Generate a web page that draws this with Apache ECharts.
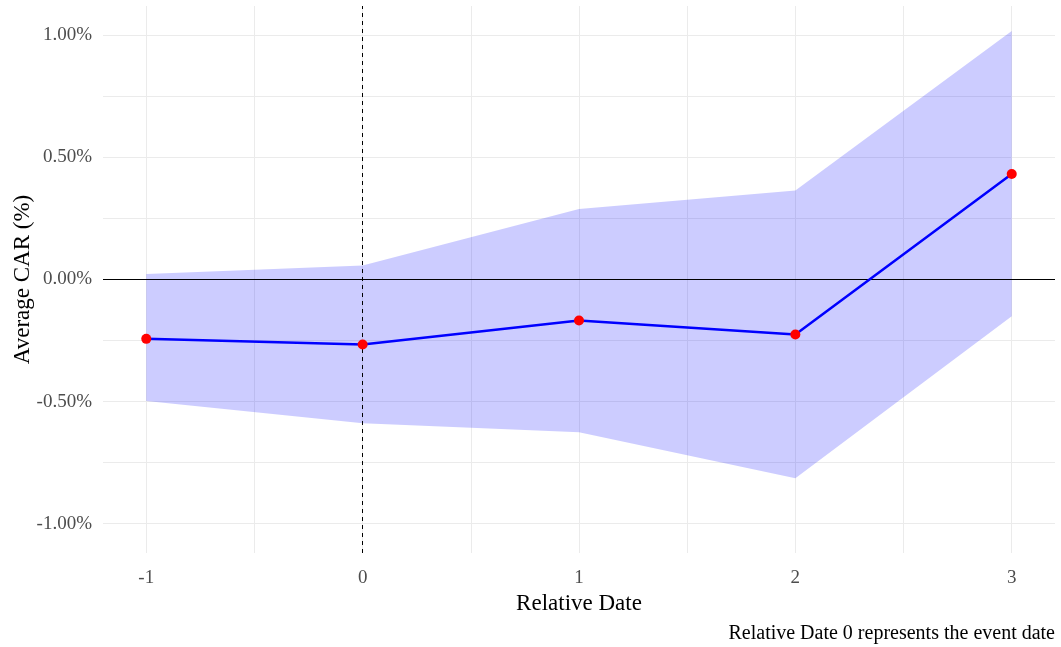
<!DOCTYPE html>
<html>
<head>
<meta charset="utf-8">
<script src="https://cdn.jsdelivr.net/npm/echarts@6/dist/echarts.min.js"></script>
<style>
  html, body { margin: 0; padding: 0; background: #fff; }
  #chart { width: 1061px; height: 647px; }
</style>
</head>
<body>
<div id="chart"></div>
<script>
// relative dates and CAR values (%)
const relDates = [-1, 0, 1, 2, 3];
const carMean = [-0.243, -0.266, -0.168, -0.225, 0.432];
const carUpper = [0.023, 0.057, 0.289, 0.364, 1.018];
const carLower = [-0.498, -0.589, -0.626, -0.814, -0.150];

const xTicks = [-1, 0, 1, 2, 3];
const xGrid = [-1, -0.5, 0, 0.5, 1, 1.5, 2, 2.5, 3];
const yTicks = [-1, -0.5, 0, 0.5, 1];
const yGrid = [-1, -0.75, -0.5, -0.25, 0, 0.25, 0.5, 0.75, 1];

const FONT = "Liberation Serif";

const chart = echarts.init(document.getElementById("chart"));

const gridLines = [
  ...xGrid.map(v => ({ xAxis: v })),
  ...yGrid.map(v => ({ yAxis: v }))
];

// confidence band as one polygon: upper edge left->right, lower edge right->left
function renderBand(params, api) {
  if (params.dataIndex !== 0) return;
  const pts = [];
  for (let i = 0; i < relDates.length; i++) pts.push(api.coord([relDates[i], carUpper[i]]));
  for (let i = relDates.length - 1; i >= 0; i--) pts.push(api.coord([relDates[i], carLower[i]]));
  return {
    type: "polygon",
    shape: { points: pts },
    style: { fill: "rgba(0,0,255,0.2)" }
  };
}

chart.setOption({
  animation: false,
  backgroundColor: "#ffffff",
  grid: { left: 103, right: 6, top: 6, bottom: 94, outerBoundsMode: "none" },
  xAxis: {
    type: "value",
    min: -1.2,
    max: 3.2,
    name: "Relative Date",
    nameLocation: "middle",
    nameGap: 39,
    nameMoveOverlap: false,
    nameTextStyle: { fontFamily: FONT, fontSize: 23, color: "#000" },
    axisLine: { show: false },
    axisTick: { show: false },
    splitLine: { show: false },
    axisLabel: {
      customValues: xTicks,
      fontFamily: FONT, fontSize: 19, color: "#4d4d4d",
      margin: 16
    }
  },
  yAxis: {
    type: "value",
    min: -1.12,
    max: 1.12,
    name: "Average CAR (%)",
    nameLocation: "middle",
    nameGap: 69,
    nameMoveOverlap: false,
    nameTextStyle: { fontFamily: FONT, fontSize: 23, color: "#000" },
    axisLine: { show: false },
    axisTick: { show: false },
    splitLine: { show: false },
    axisLabel: {
      customValues: yTicks,
      fontFamily: FONT, fontSize: 19, color: "#4d4d4d",
      margin: 11,
      formatter: v => v.toFixed(2) + "%"
    }
  },
  graphic: [{
    type: "text",
    right: 6,
    top: 624,
    style: {
      text: "Relative Date 0 represents the event date",
      font: "20px " + FONT,
      fill: "#000"
    }
  }],
  series: [
    {
      // background gridlines
      type: "line",
      data: [],
      z: 0,
      markLine: {
        silent: true,
        z: 0,
        symbol: "none",
        label: { show: false },
        lineStyle: { color: "#ebebeb", width: 1, type: "solid" },
        data: gridLines
      }
    },
    {
      name: "band",
      type: "custom",
      renderItem: renderBand,
      data: relDates.map((d, i) => [d, carUpper[i], carLower[i]]),
      z: 1,
      silent: true
    },
    {
      // reference lines
      type: "line",
      data: [],
      z: 2,
      markLine: {
        silent: true,
        z: 2,
        symbol: "none",
        label: { show: false },
        data: [
          { yAxis: 0, lineStyle: { color: "#000", width: 1, type: "solid" } },
          { xAxis: 0, lineStyle: { color: "#000", width: 1, type: [4, 4] } }
        ]
      }
    },
    {
      name: "mean",
      type: "line",
      data: relDates.map((d, i) => [d, carMean[i]]),
      lineStyle: { color: "#0000ff", width: 2.5 },
      symbol: "circle",
      symbolSize: 10,
      itemStyle: { color: "#ff0000" },
      z: 10
    }
  ]
});
</script>
</body>
</html>
